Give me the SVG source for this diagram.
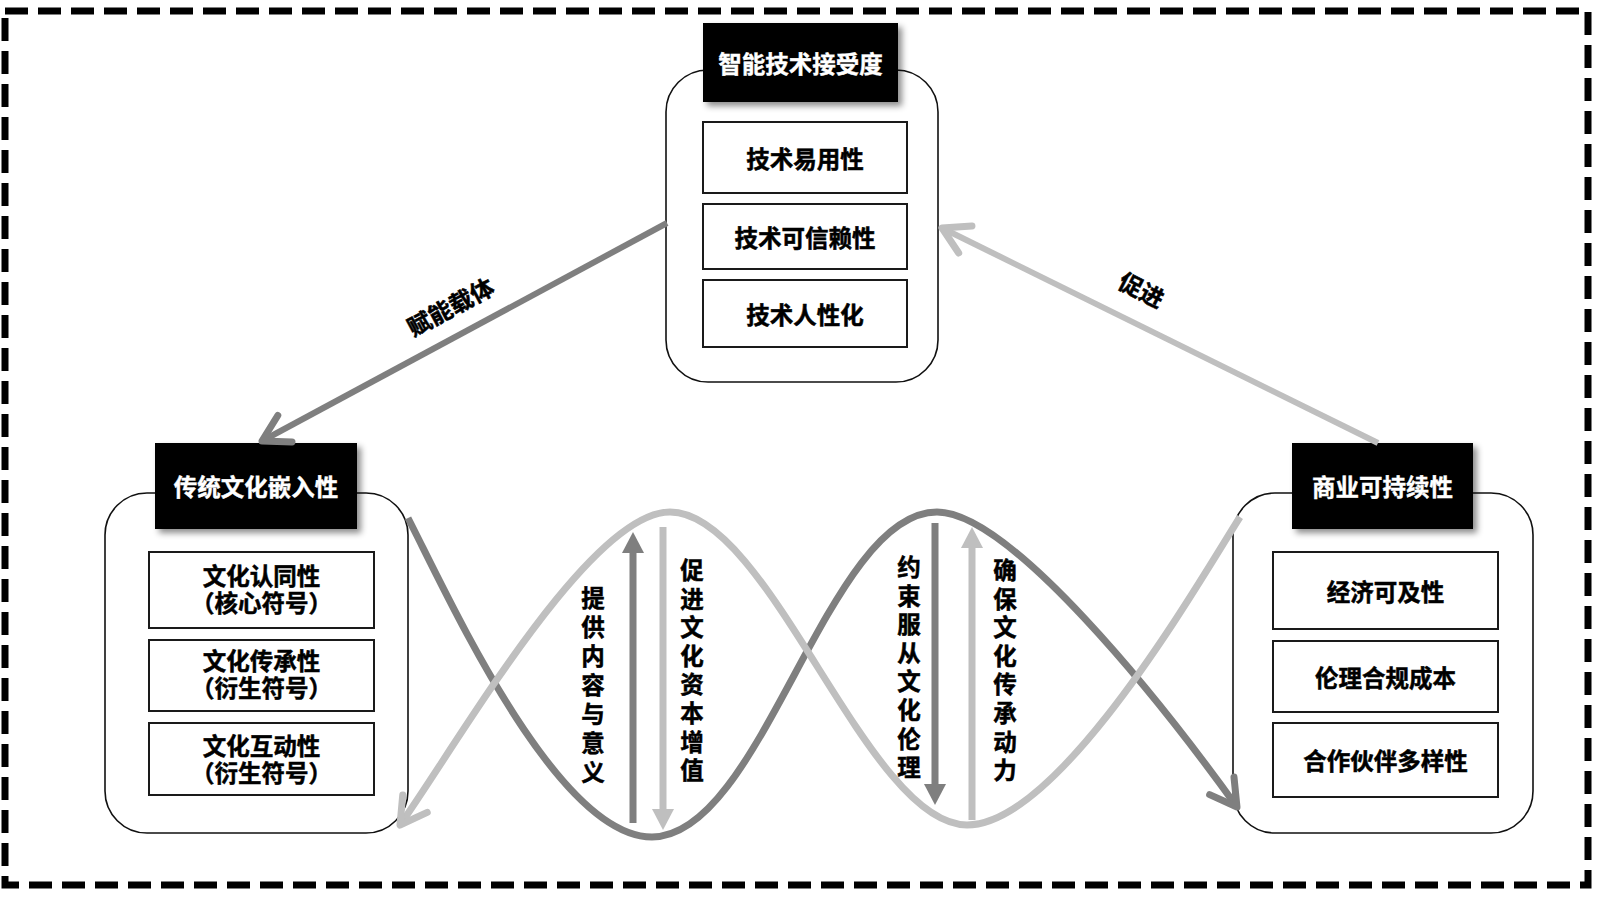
<svg xmlns="http://www.w3.org/2000/svg" width="1599" height="898" viewBox="0 0 1599 898">
<style>
.t{font-family:"Noto Sans CJK SC","Noto Sans CJK JP",sans-serif;font-weight:700;font-size:23.5px;fill:#000;stroke:#000;stroke-width:0.5;text-anchor:middle;dominant-baseline:central}
.t2{font-family:"Liberation Sans","Noto Sans CJK SC",sans-serif;font-weight:700;font-size:23.5px;fill:#000;stroke:#000;stroke-width:0.5;text-anchor:middle;dominant-baseline:central}
.v{font-family:"Noto Sans CJK SC","Noto Sans CJK JP",sans-serif;font-weight:700;font-size:23.5px;fill:#000;stroke:#000;stroke-width:0.5;text-anchor:start;writing-mode:vertical-rl;text-orientation:upright}
.h{font-family:"Noto Sans CJK SC","Noto Sans CJK JP",sans-serif;font-weight:700;font-size:23.5px;fill:#fff;stroke:#fff;stroke-width:0.4;text-anchor:middle;dominant-baseline:central}
.outer{fill:#fff;stroke:#111;stroke-width:1.6}
.inner{fill:#fff;stroke:#1a1a1a;stroke-width:2}
.hdr{fill:#000;filter:url(#sh)}
.dk{fill:none;stroke:#7f7f7f;stroke-width:7}
.lt{fill:none;stroke:#bfbfbf;stroke-width:7}
.c1{fill:none;stroke:#7f7f7f;stroke-width:6}
.c2{fill:none;stroke:#bfbfbf;stroke-width:6}
</style>
<defs>
<filter id="sh" x="-10%" y="-10%" width="130%" height="140%">
<feDropShadow dx="4" dy="4" stdDeviation="3" flood-color="#000" flood-opacity="0.45"/>
</filter>
<marker id="aDk" markerUnits="userSpaceOnUse" orient="auto" refX="0" refY="0" markerWidth="60" markerHeight="60" overflow="visible">
<path d="M -26 -15 L 0 0 L -26 15" fill="none" stroke="#7f7f7f" stroke-width="7" stroke-linecap="round" stroke-linejoin="round"/>
</marker>
<marker id="aLt" markerUnits="userSpaceOnUse" orient="auto" refX="0" refY="0" markerWidth="60" markerHeight="60" overflow="visible">
<path d="M -26 -15 L 0 0 L -26 15" fill="none" stroke="#bfbfbf" stroke-width="7" stroke-linecap="round" stroke-linejoin="round"/>
</marker>
</defs>
<rect x="0" y="0" width="1599" height="898" fill="#fff"/>
<rect id="frame" x="5" y="11" width="1583" height="874" fill="none" stroke="#000" stroke-width="7" stroke-dasharray="23 10"/>

<g id="node-tech">
<rect class="outer" x="666" y="70" width="272" height="312" rx="42"/>
<rect class="hdr" x="703" y="23" width="195" height="79"/>
<text class="h" x="800.5" y="62.5">智能技术接受度</text>
<rect class="inner" x="703" y="122" width="204" height="71"/>
<text class="t" x="805" y="157.5">技术易用性</text>
<rect class="inner" x="703" y="204" width="204" height="65"/>
<text class="t" x="805" y="236.5">技术可信赖性</text>
<rect class="inner" x="703" y="280" width="204" height="67"/>
<text class="t" x="805" y="313.5">技术人性化</text>
</g>

<g id="node-culture">
<rect class="outer" x="105" y="493" width="303" height="340" rx="42"/>
<rect class="hdr" x="155" y="443" width="202" height="86"/>
<text class="h" x="256" y="486">传统文化嵌入性</text>
<rect class="inner" x="149" y="552" width="225" height="76"/>
<text class="t2"><tspan x="261.5" y="577">文化认同性</tspan><tspan x="261.5" y="604">（核心符号）</tspan></text>
<rect class="inner" x="149" y="640" width="225" height="71"/>
<text class="t2"><tspan x="261.5" y="662">文化传承性</tspan><tspan x="261.5" y="689">（衍生符号）</tspan></text>
<rect class="inner" x="149" y="723" width="225" height="72"/>
<text class="t2"><tspan x="261.5" y="747">文化互动性</tspan><tspan x="261.5" y="774">（衍生符号）</tspan></text>
</g>

<g id="node-business">
<rect class="outer" x="1233" y="493" width="300" height="340" rx="42"/>
<rect class="hdr" x="1292" y="443" width="181" height="86"/>
<text class="h" x="1382.5" y="486">商业可持续性</text>
<rect class="inner" x="1273" y="552" width="225" height="77"/>
<text class="t" x="1385.5" y="590.5">经济可及性</text>
<rect class="inner" x="1273" y="641" width="225" height="71"/>
<text class="t" x="1385.5" y="676.5">伦理合规成本</text>
<rect class="inner" x="1273" y="723" width="225" height="74"/>
<text class="t" x="1385.5" y="760">合作伙伴多样性</text>
</g>

<g id="connectors">
<path class="c1" d="M 667 223 L 262 441" marker-end="url(#aDk)"/>
<text class="t" font-size="26" transform="translate(450 306) rotate(-28)">赋能载体</text>
<path class="c2" d="M 1378 443 L 942 228" marker-end="url(#aLt)"/>
<text class="t" font-size="26" transform="translate(1142 289) rotate(27)">促进</text>

<path class="dk" d="M 408 518 C 450 600 557 837 652 837 C 762 837 827 512 937 512 C 1010 512 1160 700 1237 807" marker-end="url(#aDk)"/>
<path class="lt" d="M 1240 517 C 1200 580 1060 825 967 825 C 867 825 770 512 670 512 C 590 512 460 740 400 825" marker-end="url(#aLt)"/>

<line x1="633" y1="823" x2="633" y2="550" stroke="#7f7f7f" stroke-width="7"/>
<polygon points="633,532 622,553 644,553" fill="#7f7f7f"/>
<line x1="663" y1="527" x2="663" y2="811" stroke="#bfbfbf" stroke-width="7"/>
<polygon points="663,830 652,809 674,809" fill="#bfbfbf"/>
<line x1="935" y1="523" x2="935" y2="786" stroke="#7f7f7f" stroke-width="7"/>
<polygon points="935,805 924,784 946,784" fill="#7f7f7f"/>
<line x1="972" y1="820" x2="972" y2="545" stroke="#bfbfbf" stroke-width="7"/>
<polygon points="972,527 961,548 983,548" fill="#bfbfbf"/>

<text class="v" x="593" y="586.25" letter-spacing="5.5">提供内容与意义</text>
<text class="v" x="692" y="558.25" letter-spacing="5.1">促进文化资本增值</text>
<text class="v" x="909" y="555.25" letter-spacing="5.1">约束服从文化伦理</text>
<text class="v" x="1005" y="558.25" letter-spacing="5.1">确保文化传承动力</text>
</g>
</svg>
